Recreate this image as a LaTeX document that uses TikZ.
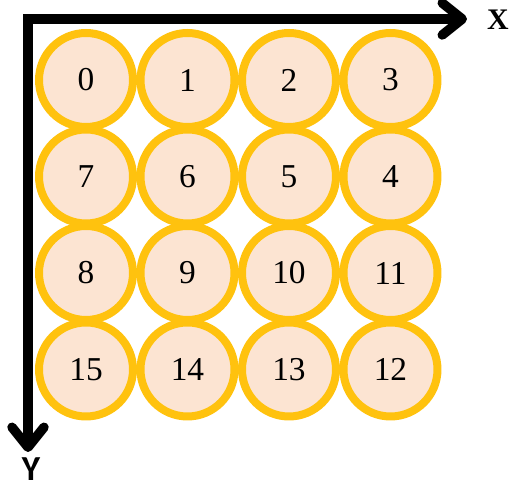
\documentclass[tikz,border=0pt]{standalone}
\usepackage{fontspec}
\setmainfont{Liberation Serif}
\newfontfamily\labelsans{Carlito}
\usetikzlibrary{arrows.meta, positioning}

\definecolor{cellgold}{HTML}{FFC20E}
\definecolor{cellpeach}{HTML}{FCE4D2}

\begin{document}
\begin{tikzpicture}[x=0.02cm, y=-0.02cm]
        % Define styles
        \tikzset{
            axis/.style={<->, >={Straight Barb[length=0.4cm, width=0.64cm, round]}, line width=0.19cm, line join=miter},
            cell/.style={circle, draw=cellgold, fill=cellpeach, line width=0.16cm, minimum size=1.88cm, inner sep=0pt, font=\fontsize{19}{22}\selectfont},
            axislabel/.style={font=\fontsize{17}{20}\selectfont\bfseries}
        }
        \useasboundingbox (0,0) rectangle (512,489);
        % Grid of cells, numbered row by row in a snake order
        \foreach \n/\col/\row in {0/0/0, 1/1/0, 2/2/0, 3/3/0,
                                  7/0/1, 6/1/1, 5/2/1, 4/3/1,
                                  8/0/2, 9/1/2, 10/2/2, 11/3/2,
                                  15/0/3, 14/1/3, 13/2/3, 12/3/3}
            \node[cell] (c\n) at (86+101.5*\col, 80+96.5*\row) {\n};
        % Axes from the top left corner
        \coordinate (origin) at (28,19);
        \coordinate (xend) at (467,19);
        \coordinate (yend) at (28,452);
        \draw[axis] (xend) -- (origin) -- (yend);
        \node[axislabel] (xlabel) at (498,20) {X};
        \node[axislabel, font=\labelsans\fontsize{20}{22}\selectfont\bfseries] (ylabel) at (31,469) {Y};
    \end{tikzpicture}
\end{document}
